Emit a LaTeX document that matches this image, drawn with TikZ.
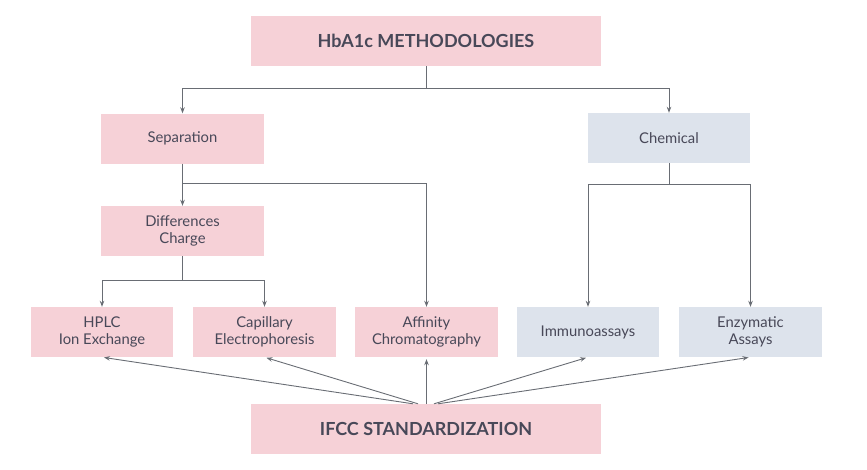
\documentclass[tikz,border=0pt]{standalone}
\usepackage{fontspec}
\setmainfont{Lato}
\usepackage{tikz}
\usetikzlibrary{arrows.meta,positioning}
\definecolor{hbpink}{RGB}{246,209,215}
\definecolor{hbblue}{RGB}{221,227,236}
\definecolor{hbtext}{RGB}{72,72,88}
\definecolor{hbline}{RGB}{105,109,116}

\begin{document}
\begin{tikzpicture}[
            x=1pt, y=-1pt,
            font=\fontsize{14.8}{17.5}\selectfont, text=hbtext,
            method/.style={
                    fill=hbpink, draw=none, align=center,
                    minimum width=143pt, minimum height=50pt, inner sep=2pt
                },
            chemical/.style={method, fill=hbblue},
            banner/.style={
                    method, minimum width=350pt,
                    font=\fontsize{18}{22}\selectfont\bfseries
                },
            link/.style={hbline, line width=0.9pt},
            arr/.style={link, -{Stealth[length=6pt,width=4.5pt]}},
            up/.style={arr, shorten >=2pt}
            ]
            \useasboundingbox (0,0) rectangle (867,469);

            \node[banner] (top) at (426,41) {HbA1c METHODOLOGIES};
            \node[method, minimum width=163pt] (sep) at (182.5,138.5) {Separation};
            \node[chemical, minimum width=162pt] (chem) at (669,138) {Chemical};
            \node[method, minimum width=163pt] (diff) at (182.5,231) {Differences\\Charge};

            \node[method, minimum width=142pt] (hplc) at (102,332) {HPLC\\Ion Exchange};
            \node[method] (cap) at (264.5,332) {Capillary\\Electrophoresis};
            \node[method] (aff) at (426.5,332) {Affinity\\Chromatography};
            \node[chemical, minimum width=142pt] (imm) at (588,332) {Immunoassays};
            \node[chemical] (enz) at (750.5,332) {Enzymatic\\Assays};

            \node[banner] (ifcc) at (426,429) {IFCC STANDARDIZATION};

            % branch points
            \coordinate (split) at (426,88);
            \coordinate (sepsplit) at (182.5,183);
            \coordinate (chemsplit) at (669,184);
            \coordinate (diffsplit) at (182.5,280);

            \draw[link] (top.south) -- (split);
            \draw[arr] (split) -| (sep.north);
            \draw[arr] (split) -| (chem.north);

            \draw[arr] (sep.south) -- (diff.north);
            \draw[arr] (sepsplit) -| (aff.north);

            \draw[link] (diff.south) -- (diffsplit);
            \draw[arr] (diffsplit) -| (hplc.north);
            \draw[arr] (diffsplit) -| (cap.north);

            \draw[link] (chem.south) -- (chemsplit);
            \draw[arr] (chemsplit) -| (imm.north);
            \draw[arr] (chemsplit) -| (enz.north);

            \draw[up] ([xshift=-13pt]ifcc.north) -- (hplc.south);
            \draw[up] ([xshift=-8pt]ifcc.north) -- (cap.south);
            \draw[up] ([xshift=0.5pt]ifcc.north) -- (aff.south);
            \draw[up] ([xshift=8pt]ifcc.north) -- (imm.south);
            \draw[up] ([xshift=12pt]ifcc.north) -- (enz.south);
        \end{tikzpicture}
\end{document}
